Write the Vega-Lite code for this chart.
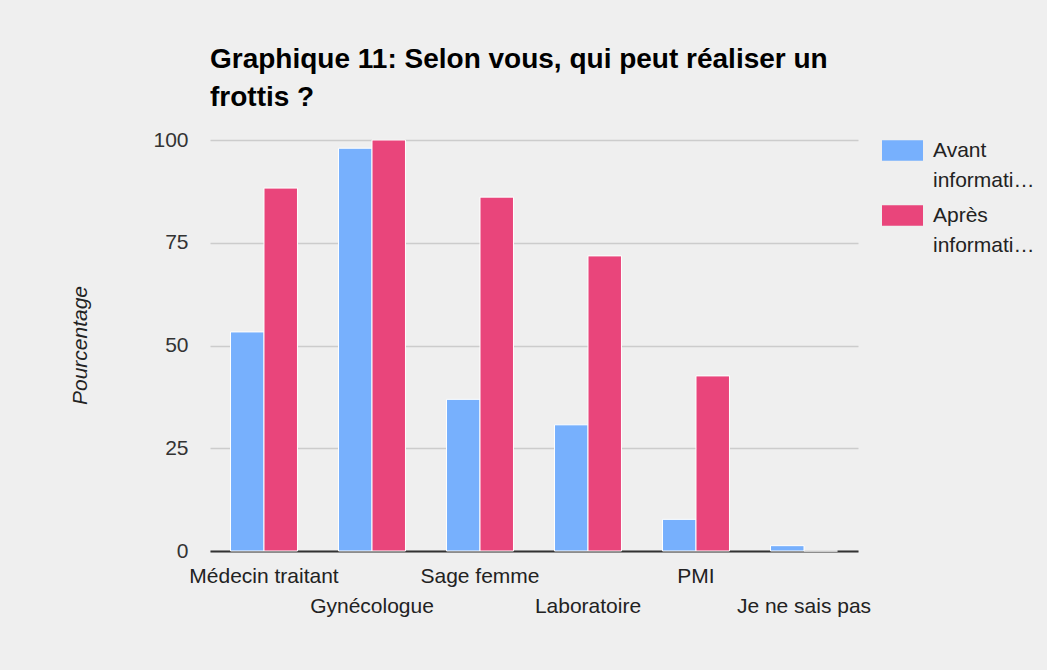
{
  "$schema": "https://vega.github.io/schema/vega-lite/v6.json",
  "autosize": {"type": "none"},
  "width": 648,
  "height": 411,
  "padding": {"left": 210, "top": 140, "right": 189, "bottom": 119},
  "background": "#efefef",
  "config": {
    "view": {"stroke": null},
    "font": "Liberation Sans",
    "style": {"guide-label": {"lineHeight": 30}}
  },
  "title": {
    "text": ["Graphique 11: Selon vous, qui peut réaliser un", "frottis ?"],
    "anchor": "start",
    "frame": "group",
    "font": "Liberation Sans",
    "fontSize": 28,
    "fontWeight": "bold",
    "color": "#000000",
    "lineHeight": 38,
    "offset": 17
  },
  "data": {
    "values": [
      {"cat": "Médecin traitant", "serie": "Avant information", "val": 53.3},
      {"cat": "Médecin traitant", "serie": "Après information", "val": 88.3},
      {"cat": "Gynécologue", "serie": "Avant information", "val": 98.0},
      {"cat": "Gynécologue", "serie": "Après information", "val": 100},
      {"cat": "Sage femme", "serie": "Avant information", "val": 36.9},
      {"cat": "Sage femme", "serie": "Après information", "val": 86.1},
      {"cat": "Laboratoire", "serie": "Avant information", "val": 30.7},
      {"cat": "Laboratoire", "serie": "Après information", "val": 71.8},
      {"cat": "PMI", "serie": "Avant information", "val": 7.7},
      {"cat": "PMI", "serie": "Après information", "val": 42.6},
      {"cat": "Je ne sais pas", "serie": "Avant information", "val": 1.3},
      {"cat": "Je ne sais pas", "serie": "Après information", "val": 0}
    ]
  },
  "mark": {"type": "bar", "stroke": "#ffffff", "strokeWidth": 1},
  "encoding": {
    "x": {
      "field": "cat",
      "type": "nominal",
      "sort": null,
      "scale": {"paddingInner": 0.38, "paddingOuter": 0.19},
      "axis": {
        "title": null,
        "labelAngle": 0,
        "labelFontSize": 21,
        "labelColor": "#222222",
        "labelPadding": 14,
        "labelLineHeight": 30,
        "labelBaseline": "top",
        "labelExpr": "indexof(['Gynécologue','Laboratoire','Je ne sais pas'], datum.label) >= 0 ? ['', datum.label] : datum.label",
        "ticks": false,
        "domainColor": "#333333",
        "domainWidth": 2,
        "grid": false
      }
    },
    "xOffset": {"field": "serie", "type": "nominal", "sort": ["Avant information", "Après information"]},
    "y": {
      "field": "val",
      "type": "quantitative",
      "scale": {"domain": [0, 100], "nice": false},
      "axis": {
        "title": "Pourcentage",
        "titleFontStyle": "italic",
        "titleFontWeight": "normal",
        "titleFontSize": 21,
        "titleColor": "#222222",
        "titleX": -130,
        "titleY": 205,
        "titleAngle": -90,
        "titleAlign": "center",
        "titleBaseline": "middle",
        "values": [0, 25, 50, 75, 100],
        "labelFontSize": 21,
        "labelColor": "#333333",
        "labelPadding": 22,
        "ticks": false,
        "domain": false,
        "gridColor": "#cccccc",
        "gridWidth": 1.5
      }
    },
    "color": {
      "field": "serie",
      "type": "nominal",
      "sort": ["Avant information", "Après information"],
      "scale": {"domain": ["Avant information", "Après information"], "range": ["#77b0fd", "#e9457b"]},
      "legend": {
        "title": null,
        "orient": "none",
        "legendX": 672,
        "legendY": -10,
        "symbolType": "M-1,-0.5H1V0.5H-1Z",
        "symbolSize": 1681,
        "symbolStrokeWidth": 0,
        "labelFontSize": 21,
        "labelColor": "#222222",
        "labelOffset": 10,
        "rowPadding": 4,
        "labelExpr": "[split(datum.label, ' ')[0], 'informati…']"
      }
    }
  }
}
